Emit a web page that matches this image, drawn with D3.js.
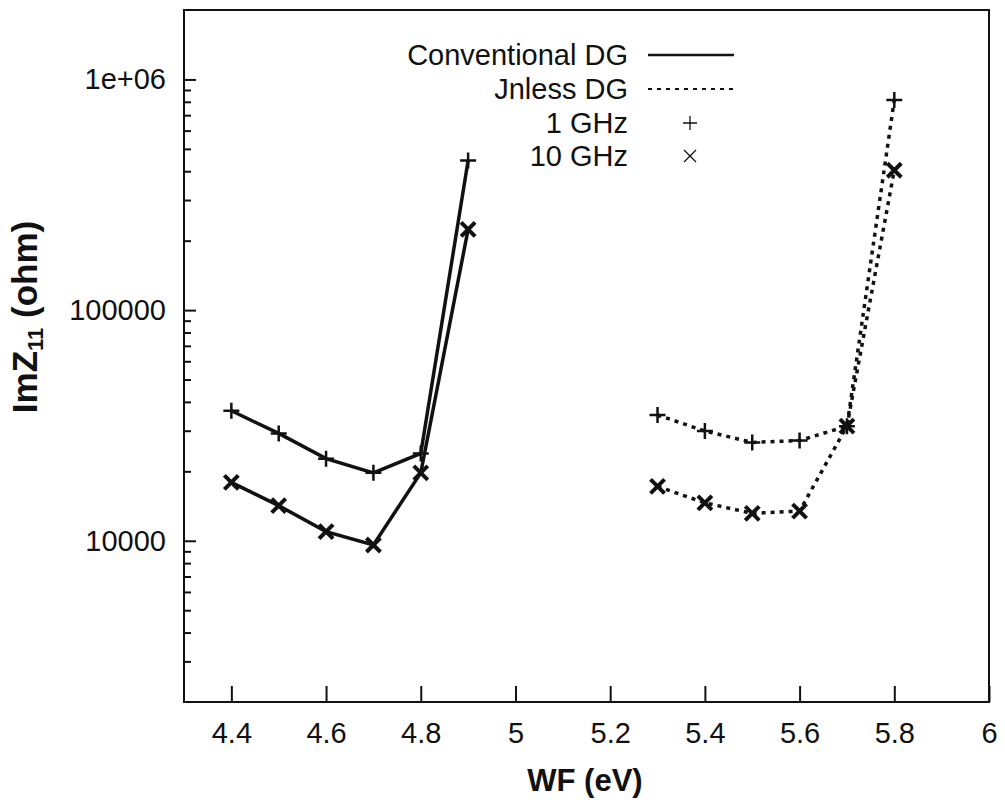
<!DOCTYPE html>
<html><head><meta charset="utf-8">
<script src="https://cdn.jsdelivr.net/npm/d3@7"></script>
<style>body{margin:0;background:#fff}svg{display:block}text{font-family:"Liberation Sans",Arial,sans-serif;fill:#111}</style>
</head><body><svg id="c" width="1005" height="800"></svg>
<script>
const wfConv = [4.4, 4.5, 4.6, 4.7, 4.8, 4.9];
const conv1GHz = [36600, 29200, 22700, 19700, 23900, 445000];
const conv10GHz = [17900, 14200, 10960, 9590, 19700, 224000];
const wfJnless = [5.3, 5.4, 5.5, 5.6, 5.7, 5.8];
const jnless1GHz = [35100, 29900, 26700, 27200, 31400, 815000];
const jnless10GHz = [17200, 14600, 13150, 13450, 31400, 404000];
const xTicks = [4.4, 4.6, 4.8, 5, 5.2, 5.4, 5.6, 5.8, 6];
const xTickLabels = ["4.4", "4.6", "4.8", "5", "5.2", "5.4", "5.6", "5.8", "6"];
const yTicks = [1e4, 1e5, 1e6];
const yTickLabels = ["10000", "100000", "1e+06"];
const legendLabels = ["Conventional DG", "Jnless DG", "1 GHz", "10 GHz"];

const svg = d3.select("#c");
const L = 184, R = 989, T = 10, B = 702;
const x = d3.scaleLinear().domain([4.3, 6]).range([L, R]);
const y = d3.scaleLog().domain([2000, 2e6]).range([B, T]);

// frame
svg.append("rect").attr("x", L).attr("y", T).attr("width", R - L).attr("height", B - T)
  .attr("fill", "none").attr("stroke", "#111").attr("stroke-width", 2);

// x axis (inward ticks)
const xAxis = svg.append("g").attr("transform", `translate(0,${B})`)
  .call(d3.axisBottom(x).tickValues(xTicks).tickSizeInner(-16).tickSizeOuter(0)
    .tickFormat((d, i) => xTickLabels[i]));
xAxis.select(".domain").remove();
xAxis.selectAll(".tick line").attr("stroke", "#111").attr("stroke-width", 2);
xAxis.selectAll(".tick text").attr("y", 20).attr("dy", "0.71em").style("font-size", "29px").attr("fill", "#111");

// y axis minor ticks
const minor = [];
for (let e = 3; e <= 6; e++) for (let m = 1; m <= 9; m++) {
  const v = m * Math.pow(10, e);
  if (v > 2000 && v < 2e6 && m !== 1) minor.push(v);
}
const yMinor = svg.append("g").attr("transform", `translate(${L},0)`)
  .call(d3.axisLeft(y).tickValues(minor).tickSizeInner(-7).tickSizeOuter(0).tickFormat(""));
yMinor.select(".domain").remove();
yMinor.selectAll(".tick line").attr("stroke", "#111").attr("stroke-width", 2);

const yAxis = svg.append("g").attr("transform", `translate(${L},0)`)
  .call(d3.axisLeft(y).tickValues(yTicks).tickSizeInner(-12).tickSizeOuter(0)
    .tickFormat((d, i) => yTickLabels[i]));
yAxis.select(".domain").remove();
yAxis.selectAll(".tick line").attr("stroke", "#111").attr("stroke-width", 2);
yAxis.selectAll(".tick text").attr("x", -18).style("font-size", "29px").attr("fill", "#111");

// axis titles
svg.append("text").attr("x", 585).attr("y", 791).attr("text-anchor", "middle")
  .style("font-size", "31px").style("font-weight", "bold").text("WF (eV)");
const yt = svg.append("text").attr("transform", "translate(37,317) rotate(-90)")
  .attr("text-anchor", "middle").style("font-size", "35px").style("font-weight", "bold");
yt.append("tspan").text("ImZ");
yt.append("tspan").attr("dy", 6).style("font-size", "22px").text("11");
yt.append("tspan").attr("dy", -6).text(" (ohm)");

// series
const line = d3.line().x(d => x(d[0])).y(d => y(d[1]));
const series = [
  { xs: wfConv, ys: conv1GHz, dash: null, mark: "plus" },
  { xs: wfConv, ys: conv10GHz, dash: null, mark: "cross" },
  { xs: wfJnless, ys: jnless1GHz, dash: "4,5", mark: "plus" },
  { xs: wfJnless, ys: jnless10GHz, dash: "4,5", mark: "cross" }
];
function drawMark(g, cx, cy, type, s, w) {
  if (type === "plus") {
    g.append("path").attr("d", `M${cx - s},${cy}H${cx + s}M${cx},${cy - s}V${cy + s}`)
      .attr("stroke", "#111").attr("stroke-width", w).attr("fill", "none");
  } else {
    g.append("path").attr("d", `M${cx - s},${cy - s}L${cx + s},${cy + s}M${cx - s},${cy + s}L${cx + s},${cy - s}`)
      .attr("stroke", "#111").attr("stroke-width", w).attr("fill", "none");
  }
}
series.forEach(s => {
  const pts = s.xs.map((v, i) => [v, s.ys[i]]);
  svg.append("path").datum(pts).attr("d", line).attr("fill", "none")
    .attr("stroke", "#111").attr("stroke-width", 3.5)
    .attr("stroke-dasharray", s.dash);
  const g = svg.append("g");
  pts.forEach(p => drawMark(g, x(p[0]), y(p[1]), s.mark, s.mark === "plus" ? 8 : 7, s.mark === "plus" ? 2.5 : 4));
});

// legend
const lg = svg.append("g");
const ly = [55, 89, 123, 156];
legendLabels.forEach((t, i) => {
  lg.append("text").attr("x", 628).attr("y", ly[i]).attr("dy", "0.35em")
    .attr("text-anchor", "end").style("font-size", "29px").text(t);
});
lg.append("line").attr("x1", 648).attr("x2", 734).attr("y1", ly[0]).attr("y2", ly[0])
  .attr("stroke", "#111").attr("stroke-width", 2.5);
lg.append("line").attr("x1", 648).attr("x2", 734).attr("y1", ly[1]).attr("y2", ly[1])
  .attr("stroke", "#111").attr("stroke-width", 2).attr("stroke-dasharray", "4,5");
drawMark(lg, 690, ly[2], "plus", 7, 1.3);
drawMark(lg, 690, ly[3], "cross", 6, 1.3);
</script></body></html>
